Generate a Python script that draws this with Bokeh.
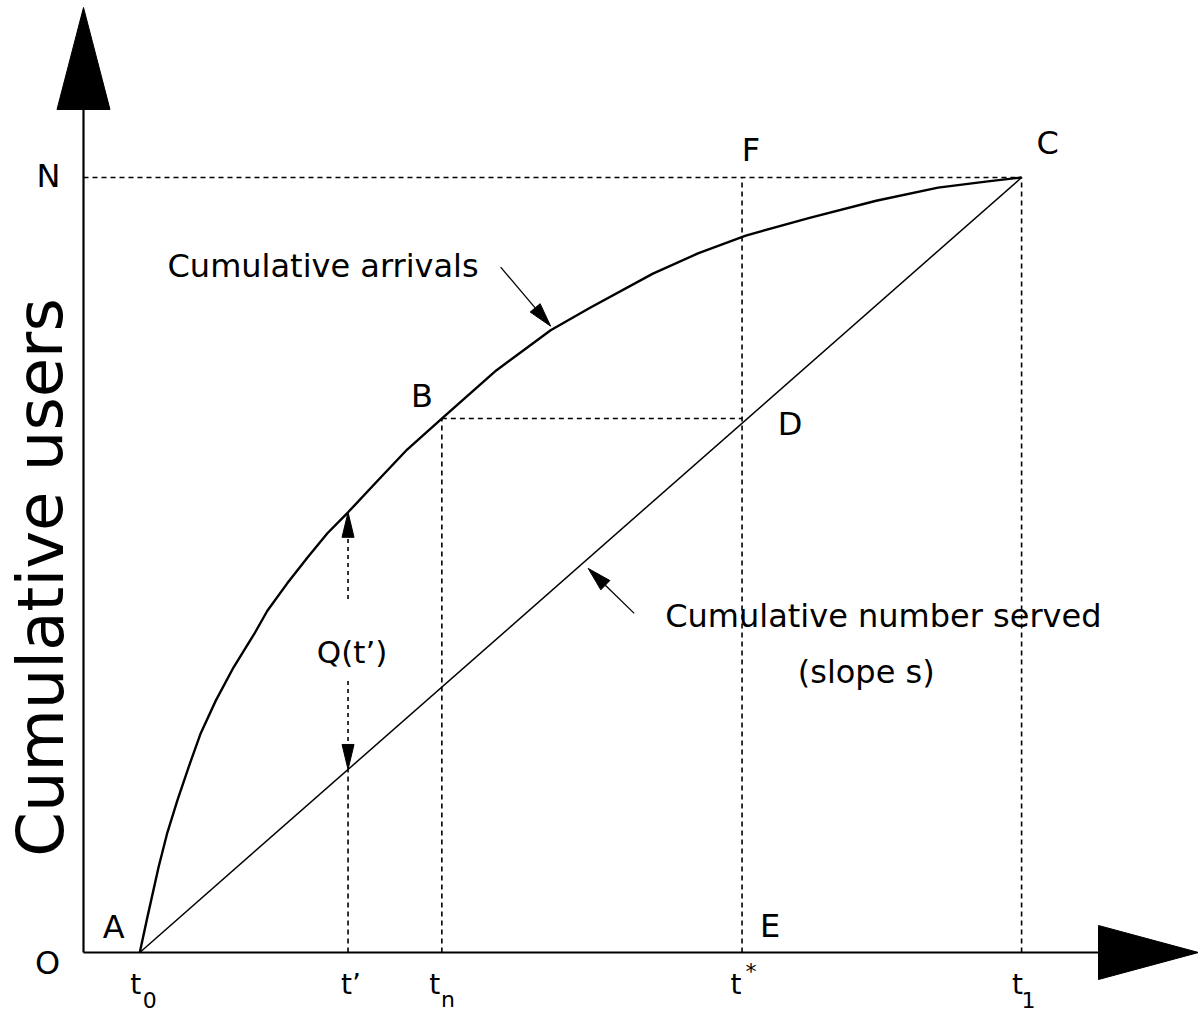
import math
from bokeh.plotting import figure
from bokeh.models import Range1d
from bokeh.core.properties import value
from bokeh.embed import file_html
from bokeh.resources import INLINE

# ---------------- values ----------------
# cumulative arrivals curve (time, users)
arrivals_t = [0.60, 0.68, 0.80, 0.89, 1.00, 1.12, 1.25, 1.41, 1.60, 1.82, 1.96, 2.17,
              2.39, 2.60, 2.82, 3.13, 3.45, 3.84, 4.40, 4.98, 5.40, 6.07, 6.55, 7.06,
              7.74, 8.45, 9.11, 9.64, 10.0]
arrivals_n = [0.00, 0.45, 1.10, 1.53, 1.96, 2.39, 2.83, 3.25, 3.68, 4.11, 4.41, 4.76,
              5.10, 5.41, 5.68, 6.08, 6.49, 6.91, 7.51, 8.03, 8.32, 8.76, 9.02, 9.25,
              9.48, 9.70, 9.87, 9.95, 10.0]
# cumulative number served (straight line, slope s)
served_t = [0.60, 10.0]
served_n = [0.00, 10.0]

N_TOTAL = 10.0
T0, T_PRIME, T_N, T_STAR, T1 = 0.60, 2.82, 3.82, 7.02, 10.0
B_LEVEL = 6.89                       # users at B (= level of D)
T_ARR_CALLOUT = 4.98                 # where the "arrivals" pointer hits
T_SRV_CALLOUT = 5.38                 # where the "served" pointer points

time_marks = [T0, T_PRIME, T_N, T_STAR, T1]
time_base = ["t", "t\u2019", "t", "t", "t"]
time_sub = ["0", "", "n", "", "1"]
time_sup = ["", "", "", "*", ""]

point_names = ["A", "B", "C", "D", "E", "F"]
point_t = [T0, T_N, T1, T_STAR, T_STAR, T_STAR]
point_n = [0.0, B_LEVEL, N_TOTAL, B_LEVEL, 0.0, N_TOTAL]

# ---------------- layout ----------------
W, H = 1198, 1012
PPX, PPY = 93.81, 77.5              # pixels per unit
ORIGIN_PX = (83, 952)               # where (0, 0) sits on the canvas
X_START, X_END = -ORIGIN_PX[0] / PPX, (W - ORIGIN_PX[0]) / PPX
Y_START, Y_END = -(H - ORIGIN_PX[1]) / PPY, ORIGIN_PX[1] / PPY
FONT = value("DejaVu Sans")
INK = "#000000"


def served_at(t):
    return served_n[0] + (served_n[1] - served_n[0]) * (t - served_t[0]) / (served_t[1] - served_t[0])


def arrivals_at(t):
    return arrivals_n[arrivals_t.index(t)]


def shift(pt, dx_px, dy_px):
    return (pt[0] + dx_px / PPX, pt[1] - dy_px / PPY)


def head(tip, tail, length, width):
    tx, ty = tip[0] * PPX, -tip[1] * PPY
    sx, sy = tail[0] * PPX, -tail[1] * PPY
    vx, vy = tx - sx, ty - sy
    d = math.hypot(vx, vy)
    ux, uy = vx / d, vy / d
    bx, by = tx - ux * length, ty - uy * length
    nx, ny = -uy, ux
    pts = [(tx, ty), (bx + nx * width / 2, by + ny * width / 2),
           (bx - nx * width / 2, by - ny * width / 2)]
    xs = [q[0] / PPX for q in pts]
    ys = [-q[1] / PPY for q in pts]
    return xs, ys, (bx / PPX, -by / PPY)


p = figure(width=W, height=H, x_range=Range1d(X_START, X_END), y_range=Range1d(Y_START, Y_END),
           x_axis_type=None, y_axis_type=None, toolbar_location=None, output_backend="svg",
           min_border=0, title=None)
p.outline_line_color = None
p.background_fill_color = "white"
p.border_fill_color = "white"

heads_x, heads_y = [], []

# ---- axes with arrowheads ----
origin = (0.0, 0.0)
y_tip = shift((0.0, Y_END), 0, 7)
yx, yy, ybase = head(y_tip, origin, 102, 53)
xx, xy, xbase = head((X_END, 0.0), origin, 100, 54)
heads_x += [yx, xx]
heads_y += [yy, xy]
p.segment(x0=[0, 0], y0=[0, 0], x1=[xbase[0], 0], y1=[0, ybase[1]], line_color=INK, line_width=2.2)

# ---- dotted guide lines ----
g_x0 = [0.0, T_STAR, T1, T_N, T_N, T_PRIME]
g_y0 = [N_TOTAL, 0.0, 0.0, 0.0, B_LEVEL, 0.0]
g_x1 = [T1, T_STAR, T1, T_N, T_STAR, T_PRIME]
g_y1 = [N_TOTAL, N_TOTAL, N_TOTAL, B_LEVEL, B_LEVEL, served_at(T_PRIME)]
p.segment(x0=g_x0, y0=g_y0, x1=g_x1, y1=g_y1, line_color=INK, line_width=1.6, line_dash="5 4")

# ---- the two cumulative curves ----
p.line(served_t, served_n, line_color=INK, line_width=1.5)
p.line(arrivals_t, arrivals_n, line_color=INK, line_width=2.4, line_join="round")

# ---- Q(t') double arrow ----
q_top = (T_PRIME, arrivals_at(T_PRIME))
q_bot = (T_PRIME, served_at(T_PRIME))
q_mid_y = (q_top[1] + q_bot[1]) / 2
up_tail = shift((T_PRIME, q_mid_y), 0, -42)
dn_tail = shift((T_PRIME, q_mid_y), 0, 40)
ux_, uy_, ubase = head(q_top, up_tail, 25, 12)
dx_, dy_, dbase = head(q_bot, dn_tail, 25, 12)
heads_x += [ux_, dx_]
heads_y += [uy_, dy_]
p.segment(x0=[up_tail[0], dn_tail[0]], y0=[up_tail[1], dn_tail[1]],
          x1=[ubase[0], dbase[0]], y1=[ubase[1], dbase[1]],
          line_color=INK, line_width=1.6, line_dash="4 4")

# ---- callout pointers ----
arr_tip = shift((T_ARR_CALLOUT, arrivals_at(T_ARR_CALLOUT)), 0, -4)
arr_tail = shift(arr_tip, -50, -59)
srv_tip = shift((T_SRV_CALLOUT, served_at(T_SRV_CALLOUT)), 0, 10)
srv_tail = shift(srv_tip, 46, 45)
ax_, ay_, abase = head(arr_tip, arr_tail, 24, 13)
sx_, sy_, sbase = head(srv_tip, srv_tail, 24, 13)
heads_x += [ax_, sx_]
heads_y += [ay_, sy_]
p.segment(x0=[arr_tail[0], srv_tail[0]], y0=[arr_tail[1], srv_tail[1]],
          x1=[abase[0], sbase[0]], y1=[abase[1], sbase[1]], line_color=INK, line_width=1.3)

p.patches(heads_x, heads_y, fill_color=INK, line_color=INK, line_width=1)

# ---- point letters ----
pt_xo = [-26, -20, 26, 48, 28, 9]
pt_yo = [-26, -23, -35, 5, -27, -28]
p.text(x=point_t, y=point_n, text=point_names, x_offset=pt_xo, y_offset=pt_yo,
       text_font=FONT, text_font_size=value("32px"), text_align="center",
       text_baseline="middle", text_color=INK)

# N and O on the vertical axis
p.text(x=[0.0, 0.0], y=[N_TOTAL, 0.0], text=["N", "O"], x_offset=[-35, -36], y_offset=[-2, 10],
       text_font=FONT, text_font_size=value("32px"), text_align="center",
       text_baseline="middle", text_color=INK)

# ---- time labels under the axis ----
base_xo = [-4, 3, -7, -6, -4]
p.text(x=time_marks, y=[0.0] * 5, text=time_base, x_offset=base_xo, y_offset=[32] * 5,
       text_font=FONT, text_font_size=value("28px"), text_align="center",
       text_baseline="middle", text_color=INK)
sub_idx = [i for i, s in enumerate(time_sub) if s]
sub_xo = {0: 10, 2: 6, 4: 7}
p.text(x=[time_marks[i] for i in sub_idx], y=[0.0] * len(sub_idx), text=[time_sub[i] for i in sub_idx],
       x_offset=[sub_xo[i] for i in sub_idx], y_offset=[47] * len(sub_idx),
       text_font=FONT, text_font_size=value("22px"), text_align="center",
       text_baseline="middle", text_color=INK)
sup_idx = [i for i, s in enumerate(time_sup) if s]
p.text(x=[time_marks[i] for i in sup_idx], y=[0.0] * len(sup_idx), text=[time_sup[i] for i in sup_idx],
       x_offset=[9] * len(sup_idx), y_offset=[19] * len(sup_idx),
       text_font=FONT, text_font_size=value("22px"), text_align="center",
       text_baseline="middle", text_color=INK)

# ---- descriptive texts ----
p.text(x=[T_PRIME], y=[q_mid_y], text=["Q(t\u2019)"], x_offset=[4], y_offset=[11],
       text_font=FONT, text_font_size=value("31px"), text_align="center",
       text_baseline="middle", text_color=INK)
p.text(x=[arr_tail[0]], y=[arr_tail[1]], text=["Cumulative arrivals"], x_offset=[-22], y_offset=[-1],
       text_font=FONT, text_font_size=value("32px"), text_align="right",
       text_baseline="middle", text_color=INK)
p.text(x=[srv_tail[0], srv_tail[0]], y=[srv_tail[1], srv_tail[1]],
       text=["Cumulative number served", "(slope s)"], x_offset=[31, 232], y_offset=[3, 59],
       text_align=["left", "center"],
       text_font=FONT, text_font_size=value("32px"),
       text_baseline="middle", text_color=INK)
p.text(x=[0.0], y=[0.0], text=["Cumulative users"], x_offset=[-43], y_offset=[-375],
       angle=[math.pi / 2], text_font=FONT, text_font_size=value("64px"), text_align="center",
       text_baseline="middle", text_color=INK)

open("out.html", "w").write(file_html(p, INLINE))
